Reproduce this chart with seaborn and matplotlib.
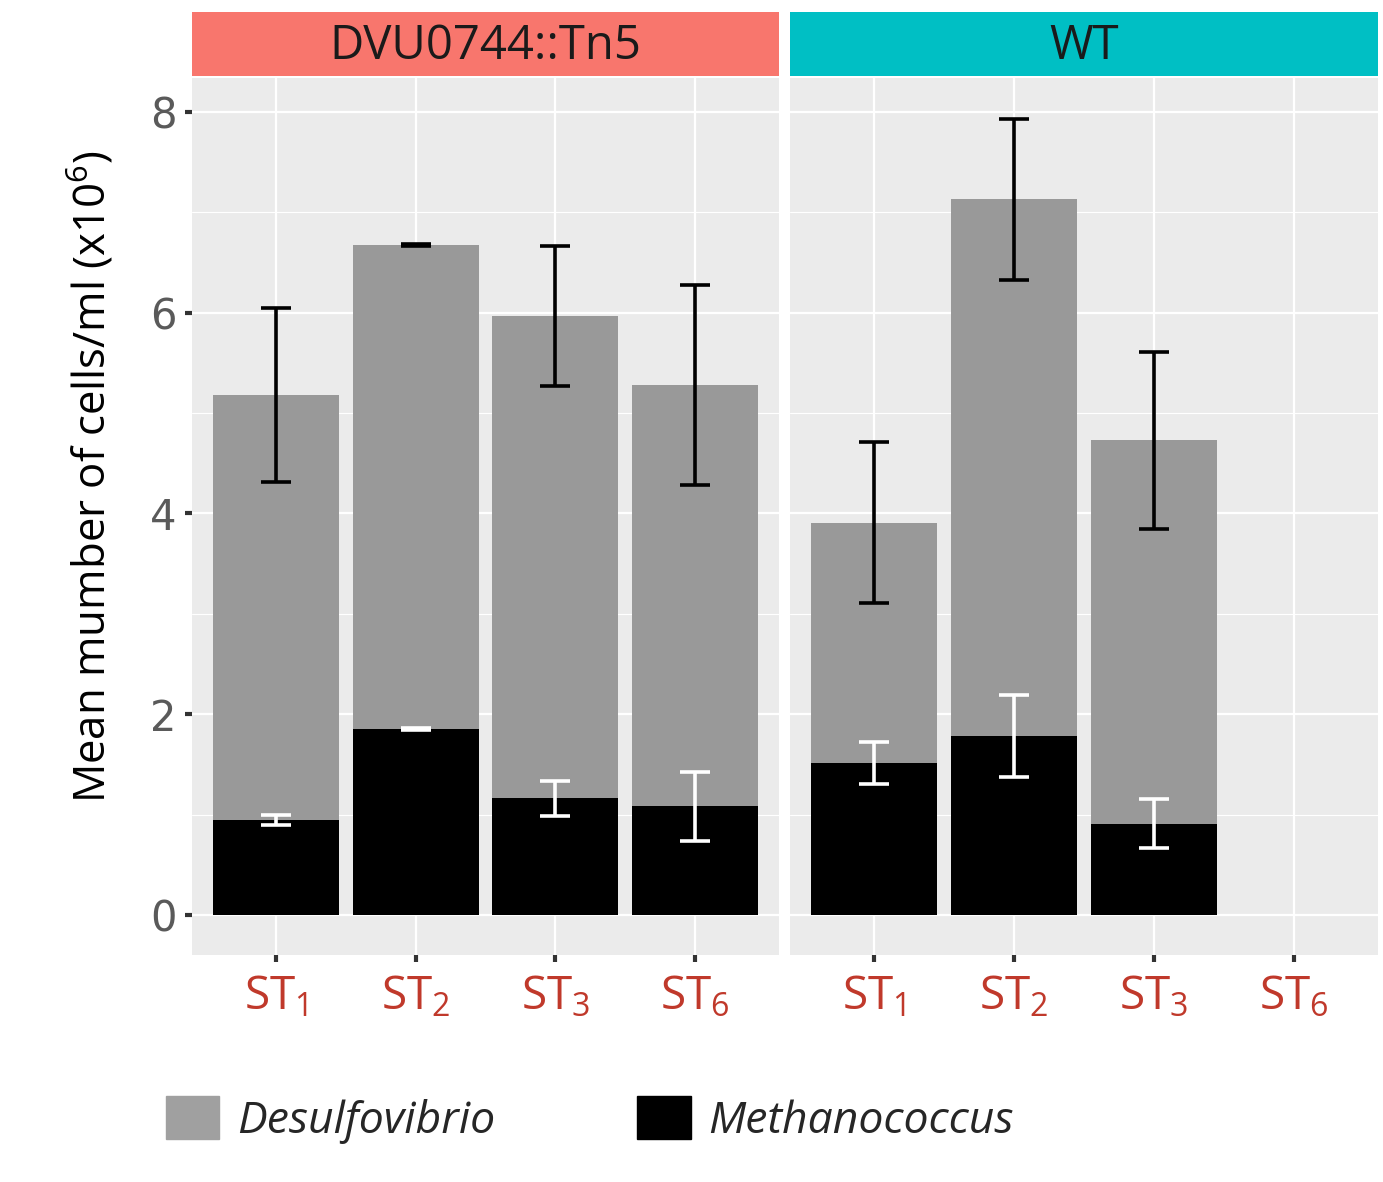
import numpy as np
import pandas as pd
import matplotlib.pyplot as plt
import matplotlib.patches as mpatches
import seaborn as sns

# Values (x10^6 cells/ml)
categories = ["ST1", "ST2", "ST3", "ST6"]
tick_labels = [r"ST$_1$", r"ST$_2$", r"ST$_3$", r"ST$_6$"]
strains = ["DVU0744::Tn5", "WT"]

mut_desulfo = [4.23, 4.83, 4.81, 4.20]
mut_desulfo_err = [0.87, 0.01, 0.70, 1.00]
mut_methano = [0.95, 1.85, 1.16, 1.08]
mut_methano_err = [0.05, 0.01, 0.17, 0.34]

wt_desulfo = [2.40, 5.35, 3.82]
wt_desulfo_err = [0.80, 0.80, 0.88]
wt_methano = [1.51, 1.78, 0.91]
wt_methano_err = [0.21, 0.41, 0.24]

strip_colors = ["#F8766D", "#00BFC4"]
gray_bar = "#999999"

rows = []
for strain, d, de, m, me in [
    (strains[0], mut_desulfo, mut_desulfo_err, mut_methano, mut_methano_err),
    (strains[1], wt_desulfo, wt_desulfo_err, wt_methano, wt_methano_err),
]:
    for i in range(len(d)):
        rows.append({"strain": strain, "stage": categories[i],
                     "desulfo": d[i], "desulfo_err": de[i],
                     "methano": m[i], "methano_err": me[i]})
df = pd.DataFrame(rows)
df["total"] = df["desulfo"] + df["methano"]

sns.set_theme(style="darkgrid")
plt.rcParams["font.family"] = ["Open Sans", "DejaVu Sans"]
plt.rcParams["mathtext.fontset"] = "custom"
plt.rcParams["mathtext.rm"] = "Open Sans"
plt.rcParams["mathtext.it"] = "Open Sans:italic"

W, H = 1383, 1182
fig = plt.figure(figsize=(W / 100, H / 100), dpi=100)

panel_x = [192, 790]
panel_w = [587, 588]
top, bottom = 78, 955

for k, strain in enumerate(strains):
    ax = fig.add_axes([panel_x[k] / W, 1 - bottom / H, panel_w[k] / W, (bottom - top) / H])
    ax.set_facecolor("#EBEBEB")
    sub = df[df["strain"] == strain]

    sns.barplot(data=sub, x="stage", y="total", order=categories, color=gray_bar,
                width=0.9, errorbar=None, saturation=1, linewidth=0, ax=ax)
    sns.barplot(data=sub, x="stage", y="methano", order=categories, color="black",
                width=0.9, errorbar=None, saturation=1, linewidth=0, ax=ax)

    pos = [categories.index(s) for s in sub["stage"]]
    ax.errorbar(pos, sub["total"], yerr=sub["desulfo_err"], fmt="none",
                ecolor="black", elinewidth=2.6, capsize=11, capthick=2.6, zorder=5)
    ax.errorbar(pos, sub["methano"], yerr=sub["methano_err"], fmt="none",
                ecolor="white", elinewidth=2.6, capsize=11, capthick=2.6, zorder=5)

    ax.set_xlim(-0.6, 3.6)
    ax.set_ylim(-0.40, 8.34)
    ax.set_yticks([0, 2, 4, 6, 8])
    ax.set_yticks([1, 3, 5, 7], minor=True)
    ax.grid(True, which="major", color="white", linewidth=1.6)
    ax.grid(True, which="minor", axis="y", color="white", linewidth=0.8)
    ax.set_xticks(range(4))
    ax.set_xticklabels(tick_labels, color="#C0392B", fontsize=33)
    ax.tick_params(axis="x", length=5, width=3, color="#333333", pad=9, bottom=True)
    ax.set_xlabel("")
    ax.set_ylabel("")
    for s in ax.spines.values():
        s.set_visible(False)

    if k == 0:
        ax.tick_params(axis="y", length=5, width=3, color="#333333", left=True,
                       labelsize=30, labelcolor="#5A5A5A", pad=6)
        ax.set_yticklabels(["0", "2", "4", "6", "8"], family="DejaVu Sans")
        ax.set_ylabel(r"Mean mumber of cells/ml (x10$^6$)", fontsize=31.5, color="black")
        ax.yaxis.set_label_coords(-0.128, 0.545)
    else:
        ax.tick_params(axis="y", left=False, labelleft=False)

    # facet strip
    sax = fig.add_axes([panel_x[k] / W, 1 - 76 / H, panel_w[k] / W, 64 / H])
    sax.set_facecolor(strip_colors[k])
    sax.set_xticks([])
    sax.set_yticks([])
    for s in sax.spines.values():
        s.set_visible(False)
    sax.text(0.5, 0.47, strain, ha="center", va="center", fontsize=34,
             color="#1A1A1A", transform=sax.transAxes)

handles = [mpatches.Patch(color="#A0A0A0", label="Desulfovibrio"),
           mpatches.Patch(color="black", label="Methanococcus")]
leg = fig.legend(handles=handles, loc="center left", bbox_to_anchor=(126 / W, 1 - 1120 / H),
                 ncol=2, frameon=False, handlelength=1.2, handleheight=1.1,
                 columnspacing=3.2, handletextpad=0.4,
                 prop={"size": 32, "style": "italic"})

fig.savefig("out.png", dpi=100)
